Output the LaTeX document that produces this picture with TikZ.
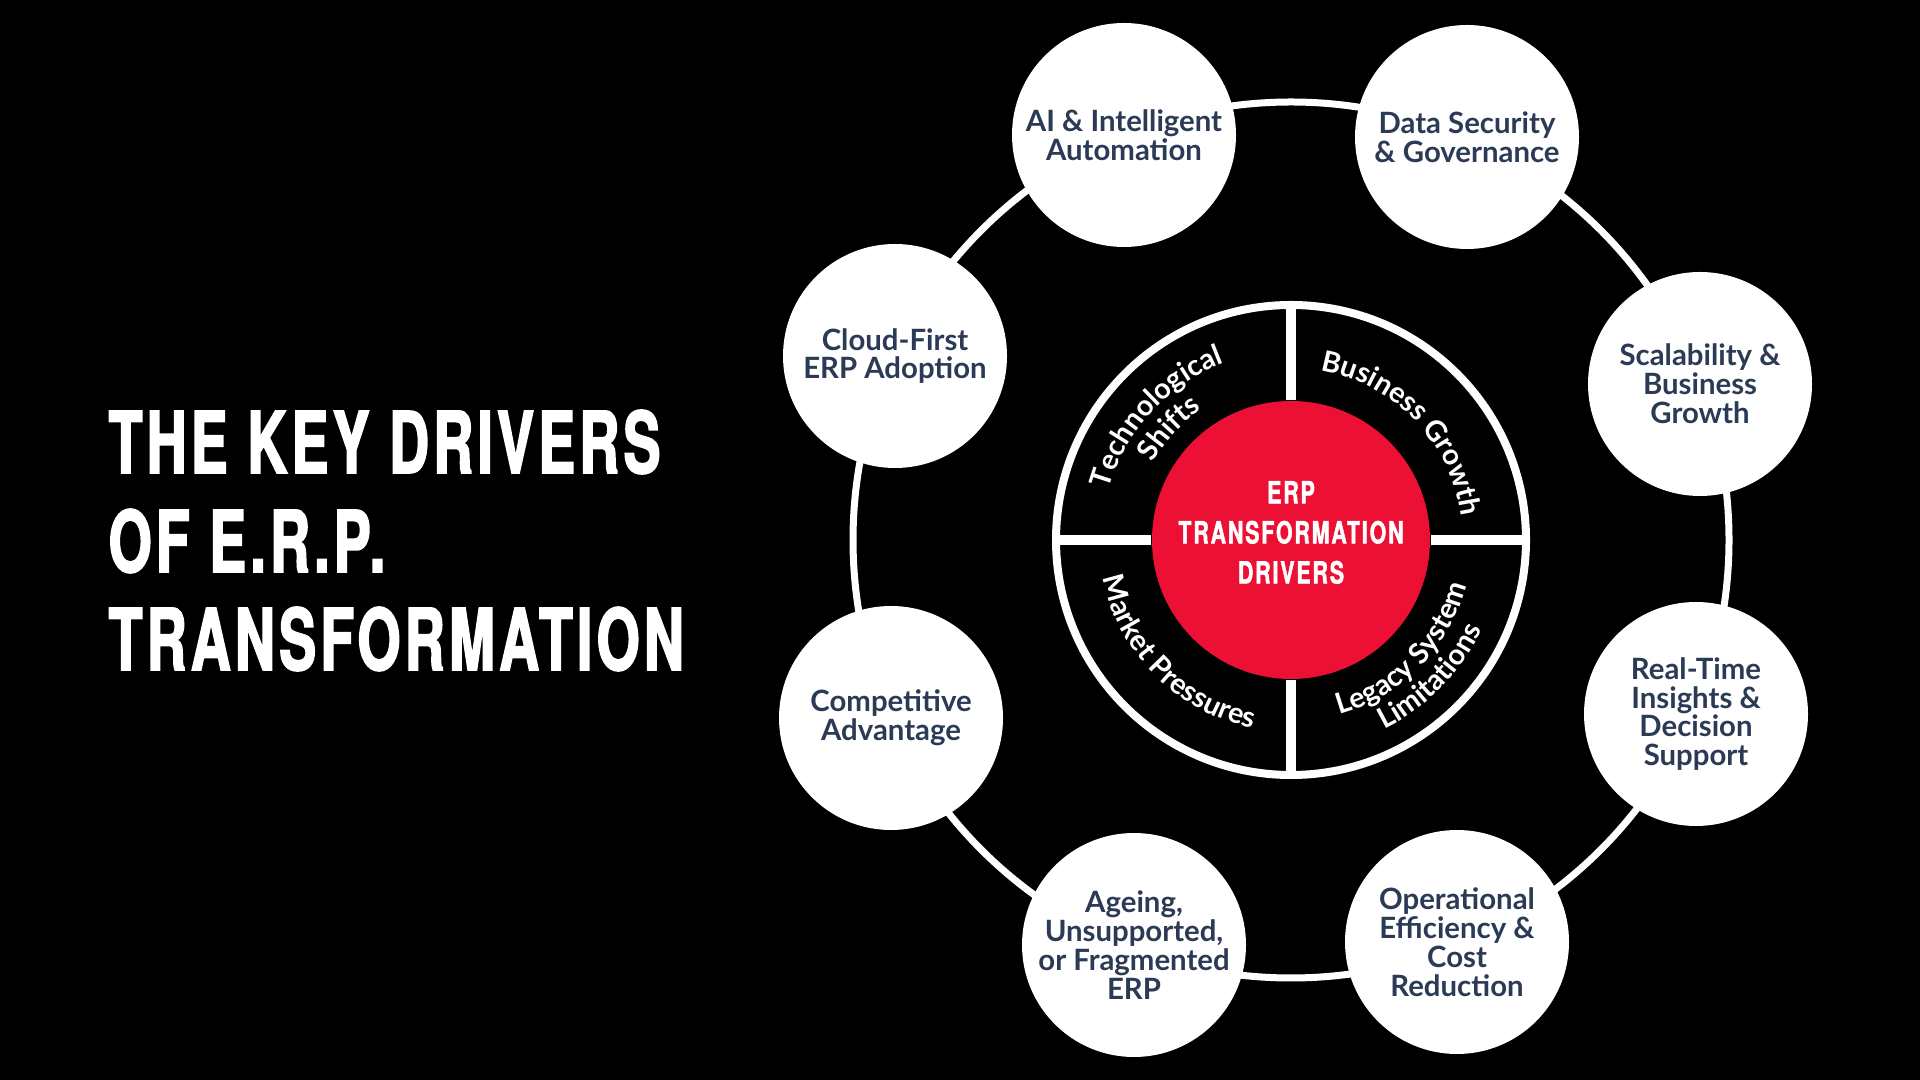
\documentclass[tikz,border=0pt]{standalone}
\usepackage{fontspec}
\setmainfont{Lato}
\newfontfamily\headfont[FakeStretch=0.65,LetterSpace=5,FakeBold=2]{TeX Gyre Heros}
\newfontfamily\hubfont[FakeStretch=0.70,LetterSpace=6,FakeBold=1.5]{TeX Gyre Heros}
\usetikzlibrary{decorations.text}

\definecolor{erpred}{HTML}{EC1035}
\definecolor{drvnavy}{HTML}{2B3A55}

% font for the words running round the inner ring
\newcommand\ringtxt{\fontsize{8.2}{9}\selectfont\bfseries\color{white}}

\begin{document}
\begin{tikzpicture}[
  headline/.style={anchor=base west, inner sep=0pt, text=white, font=\headfont\bfseries\fontsize{24.2}{28}\selectfont},
  drv/.style={circle, fill=white, minimum size=2.24cm, inner sep=0pt, align=center, text=drvnavy, font=\fontsize{8.35}{8.2}\selectfont\bfseries},
  hub/.style={circle, fill=erpred, minimum size=2.78cm, inner sep=0pt},
  hubtext/.style={inner sep=0pt, align=center, text=white, font=\hubfont\bfseries\fontsize{8.7}{11.4}\selectfont},
  spoke/.style={white, line width=0.1cm},
  ringtext/.style={white, decorate, decoration={text along path, text align=center, text={#1}}}
]
		% background
		\fill[black] (0,0) rectangle (19.2,10.8);
		\useasboundingbox (0,0) rectangle (19.2,10.8);
		
		% title on the left
		\node[headline] (t1) at (1.08,6.07) {THE KEY DRIVERS};
		\node[headline] (t2) at (1.08,5.08) {OF E.R.P.};
		\node[headline] (t3) at (1.08,4.10) {TRANSFORMATION};
		
		\begin{scope}[shift={(12.91,5.40)}]
		% input radii
		\def\R{4.38}
		\def\r{2.35}
		\coordinate (ctr) at (0,0);
		
		% outer ring with the eight drivers
		\draw[white, line width=0.07cm] (ctr) circle[radius=\R];
		\node[drv] (ai) at (-1.67,4.05) {AI \& Intelligent\\Automation};
		\node[drv] (data) at (1.76,4.03) {Data Security\\\& Governance};
		\node[drv] (scal) at (4.09,1.56) {Scalability \&\\Business\\Growth};
		\node[drv] (rt) at (4.05,-1.74) {Real-Time\\Insights \&\\Decision\\Support};
		\node[drv] (ops) at (1.66,-4.02) {Operational\\Efficiency \&\\Cost\\Reduction};
		\node[drv] (age) at (-1.57,-4.05) {Ageing,\\Unsupported,\\or Fragmented\\ERP};
		\node[drv] (comp) at (-4.00,-1.78) {Competitive\\Advantage};
		\node[drv] (cloud) at (-3.96,1.84) {Cloud-First\\ERP Adoption};
		
		% inner ring, hub and spokes
		\draw[white, line width=0.08cm] (ctr) circle[radius=\r];
		\node[hub] (hub) at (ctr) {};
		\coordinate (rn) at (90:\r);
		\coordinate (re) at (0:\r);
		\coordinate (rs) at (-90:\r);
		\coordinate (rw) at (180:\r);
		\draw[spoke] (hub.north) -- (rn);
		\draw[spoke] (hub.east) -- (re);
		\draw[spoke] (hub.south) -- (rs);
		\draw[spoke] (hub.west) -- (rw);
		\node[hubtext] (hubtxt) at (0,0.075) {ERP\\TRANSFORMATION\\DRIVERS};
		
		% curved words in the four quarters
		\path[ringtext={|\ringtxt|Technological}] (178:1.89) arc[start angle=178, end angle=97, radius=1.89];
		\path[ringtext={|\ringtxt|Shifts}] (178:1.58) arc[start angle=178, end angle=97, radius=1.58];
		\path[ringtext={|\ringtxt|Business Growth}] (88:1.72) arc[start angle=88, end angle=0, radius=1.72];
		\path[ringtext={|\ringtxt|Market Pressures}] (180:1.92) arc[start angle=180, end angle=270, radius=1.92];
		\path[ringtext={|\ringtxt|Legacy System}] (270:1.81) arc[start angle=270, end angle=361, radius=1.81];
		\path[ringtext={|\ringtxt|Limitations}] (270:2.11) arc[start angle=270, end angle=361, radius=2.11];
		\end{scope}
		
\end{tikzpicture}
\end{document}
